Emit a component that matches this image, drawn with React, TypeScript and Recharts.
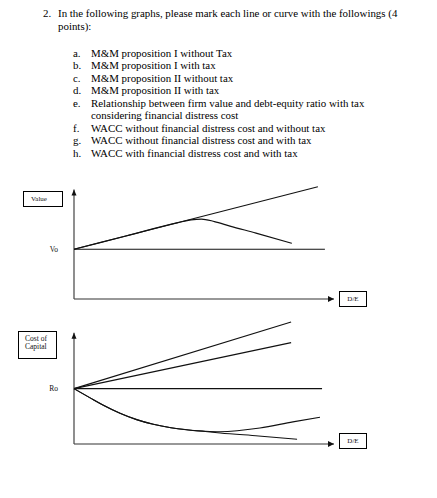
import React from "react";
import { LineChart, Line, XAxis, YAxis, ReferenceLine, ReferenceDot } from "recharts";

const titleNumber = "2.";
const titleLines = [
  "In the following graphs, please mark each line or curve with the followings (4",
  "points):",
];
const itemLetters = ["a.", "b.", "c.", "d.", "e.", "", "f.", "g.", "h."];
const itemTexts = [
  "M&M proposition I without Tax",
  "M&M proposition I with tax",
  "M&M proposition II without tax",
  "M&M proposition II with tax",
  "Relationship between firm value and debt-equity ratio with tax",
  "considering financial distress cost",
  "WACC without financial distress cost and without tax",
  "WACC without financial distress cost and with tax",
  "WACC with financial distress cost and with tax",
];

// graph 1: firm value vs D/E
const valueTicks = [4.4];
const valueNoTax = [{ de: 0, v: 4.4 }, { de: 9.65, v: 4.4 }];
const valueWithTax = [{ de: 0, v: 4.4 }, { de: 9.38, v: 9.94 }];
const valueWithDistress = [
  { de: 0, v: 4.4 }, { de: 2, v: 5.58 }, { de: 4, v: 6.76 }, { de: 4.5, v: 7.0 },
  { de: 4.9, v: 7.07 }, { de: 5.4, v: 6.85 }, { de: 6, v: 6.45 }, { de: 7, v: 5.83 },
  { de: 8.38, v: 4.93 },
];

// graph 2: cost of capital vs D/E
const costTicks = [4.5];
const reNoTax = [{ de: 0, v: 4.5 }, { de: 8.35, v: 9.92 }];
const reWithTax = [{ de: 0, v: 4.5 }, { de: 8.35, v: 8.24 }];
const waccNoTax = [{ de: 0, v: 4.5 }, { de: 9.54, v: 4.5 }];
const waccWithTax = [
  { de: 0, v: 4.5 }, { de: 0.62, v: 3.75 }, { de: 1.13, v: 3.15 }, { de: 1.77, v: 2.5 },
  { de: 2.41, v: 1.98 }, { de: 3.05, v: 1.6 }, { de: 3.73, v: 1.32 }, { de: 4.41, v: 1.14 },
  { de: 5.05, v: 1.02 }, { de: 5.62, v: 0.9 }, { de: 7.1, v: 0.65 }, { de: 8.58, v: 0.38 },
];
const waccWithDistress = [
  { de: 0, v: 4.5 }, { de: 0.62, v: 3.75 }, { de: 1.13, v: 3.15 }, { de: 1.77, v: 2.5 },
  { de: 2.41, v: 1.98 }, { de: 3.05, v: 1.6 }, { de: 3.73, v: 1.32 }, { de: 4.41, v: 1.14 },
  { de: 5.05, v: 1.04 }, { de: 5.62, v: 1.0 }, { de: 7.15, v: 1.3 }, { de: 8.42, v: 1.8 },
  { de: 9.46, v: 2.17 },
];

const serif = "'Liberation Serif', 'Times New Roman', serif";
const ink = "#111";

const arrowRight = (p: any) => (
  <path d={`M${p.cx},${p.cy} l-6,-3 l0,6 z`} fill={ink} />
);
const arrowUp = (p: any) => (
  <path d={`M${p.cx},${p.cy} l-2.5,6 l5,0 z`} fill={ink} />
);

function Graph({ top, height, marginTop, ticks, tickName, yTop, series }: {
  top: number; height: number; marginTop: number; ticks: number[]; tickName: string;
  yTop: number; series: { data: { de: number; v: number }[]; curved?: boolean }[];
}) {
  return (
    <div style={{ position: "absolute", left: 0, top }}>
      <LineChart width={437} height={height} margin={{ top: marginTop, right: 103, bottom: 11, left: 44 }}>
        <XAxis type="number" dataKey="de" domain={[0, 10]} hide />
        <YAxis
          type="number" domain={[0, 10]} ticks={ticks} interval={0} width={30}
          axisLine={false} tickLine={false} tickSize={6} tickMargin={10}
          tickFormatter={() => tickName}
          tick={{ fontSize: 7.5, fill: ink, fontFamily: serif }}
        />
        <ReferenceLine segment={[{ x: 0, y: 0 }, { x: 10, y: 0 }]} stroke="#333" strokeWidth={1.2} />
        <ReferenceLine segment={[{ x: 0, y: 0 }, { x: 0, y: yTop }]} stroke="#444" strokeWidth={1.2} />
        <ReferenceDot x={10} y={0} r={0} shape={arrowRight} />
        <ReferenceDot x={0} y={yTop} r={0} shape={arrowUp} />
        {series.map((s, i) => (
          <Line
            key={i} data={s.data} dataKey="v" type={s.curved ? "monotone" : "linear"}
            stroke={ink} strokeWidth={1.1} dot={false} activeDot={false} isAnimationActive={false}
          />
        ))}
      </LineChart>
    </div>
  );
}

const box: React.CSSProperties = {
  position: "absolute", boxSizing: "border-box", border: "1px solid #000",
  fontFamily: serif, fontSize: 7, color: ink, background: "#fff",
};

export default function App() {
  return (
    <div style={{ position: "absolute", left: 0, top: 0, width: 437, height: 498, background: "#fff", fontFamily: serif, color: "#000" }}>
      <div style={{ position: "absolute", left: 43, top: 7, fontSize: 10.9, lineHeight: "13px" }}>{titleNumber}</div>
      <div style={{ position: "absolute", left: 58, top: 7, fontSize: 10.9, lineHeight: "13.3px", whiteSpace: "nowrap" }}>
        {titleLines.map((t) => <div key={t}>{t}</div>)}
      </div>
      <div style={{ position: "absolute", left: 73, top: 46.5, fontSize: 10.9, lineHeight: "12.5px", whiteSpace: "nowrap" }}>
        {itemTexts.map((t, i) => (
          <div key={t} style={{ position: "relative", height: 12.5 }}>
            <span style={{ position: "absolute", left: 0 }}>{itemLetters[i]}</span>
            <span style={{ position: "absolute", left: 18 }}>{t}</span>
          </div>
        ))}
      </div>

      <Graph
        top={180} height={130} marginTop={6} ticks={valueTicks} tickName="Vo" yTop={9.7}
        series={[{ data: valueNoTax }, { data: valueWithTax }, { data: valueWithDistress, curved: true }]}
      />
      <div style={{ ...box, left: 23, top: 191, width: 40, height: 16, paddingLeft: 7, lineHeight: "14px" }}>Value</div>
      <div style={{ ...box, left: 339, top: 291, width: 28, height: 16, textAlign: "center", lineHeight: "14px" }}>D/E</div>

      <Graph
        top={320} height={135} marginTop={1} ticks={costTicks} tickName="Ro" yTop={9.05}
        series={[
          { data: reNoTax }, { data: reWithTax }, { data: waccNoTax },
          { data: waccWithTax, curved: true }, { data: waccWithDistress, curved: true },
        ]}
      />
      <div style={{ ...box, left: 18, top: 331, width: 39, height: 28, paddingLeft: 6, paddingTop: 3, fontSize: 7.5, lineHeight: "7.8px" }}>
        <div>Cost of</div>
        <div>Capital</div>
      </div>
      <div style={{ ...box, left: 339, top: 433, width: 28, height: 16, textAlign: "center", lineHeight: "14px" }}>D/E</div>
    </div>
  );
}
